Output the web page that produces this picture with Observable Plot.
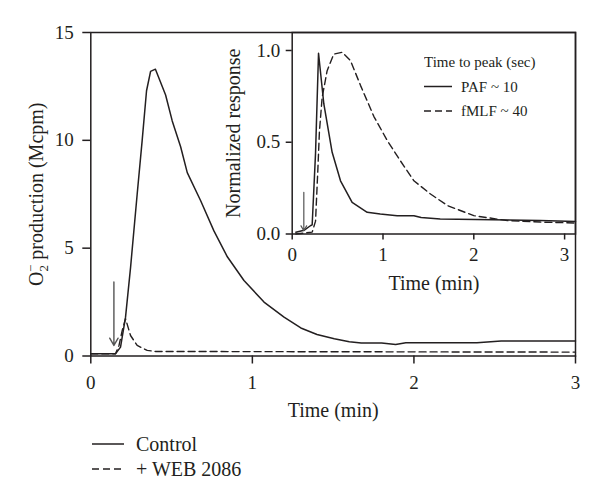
<!DOCTYPE html>
<html>
<head>
<meta charset="utf-8">
<script src="https://cdn.jsdelivr.net/npm/d3@7"></script>
<script src="https://cdn.jsdelivr.net/npm/@observablehq/plot@0.6"></script>
<style>
  html, body { margin: 0; padding: 0; background: white; }
  #wrap { position: relative; width: 600px; height: 503px; color: #231f20; }
  #inset { position: absolute; left: 200px; top: 0px; }
  #insetLegend { position: absolute; left: 424px; top: 50px; }
  #legend { display: block; }
  svg text { font-family: "Liberation Serif", serif; }
</style>
</head>
<body>
<div id="wrap">
  <div id="main"></div>
  <div id="inset"></div>
  <div id="insetLegend"></div>
  <div id="legend"></div>
</div>
<script>
// ---------- Main chart data ----------
const mainXTicks = [0, 1, 2, 3];
const mainYTicks = [0, 5, 10, 15];
const mainXLabel = "Time (min)";
const mainYLabel = "O₂⁻ production (Mcpm)";

const controlTime  = [0, 0.153, 0.184, 0.215, 0.246, 0.287, 0.318, 0.345, 0.37, 0.40, 0.463, 0.504, 0.556, 0.597, 0.68, 0.762, 0.845, 0.948, 1.072, 1.196, 1.30, 1.40, 1.507, 1.60, 1.674, 1.80, 1.887, 1.95, 2.39, 2.54, 3.0];
const controlValue = [0.1, 0.1, 0.41, 1.8, 4.1, 7.5, 10.0, 12.3, 13.2, 13.3, 12.1, 10.9, 9.7, 8.5, 7.2, 5.8, 4.6, 3.5, 2.5, 1.8, 1.3, 1.0, 0.8, 0.66, 0.6, 0.6, 0.53, 0.61, 0.61, 0.69, 0.69];

const webTime  = [0, 0.153, 0.175, 0.195, 0.215, 0.246, 0.287, 0.349, 0.40, 3.0];
const webValue = [0.1, 0.1, 0.5, 1.2, 1.73, 0.95, 0.49, 0.26, 0.21, 0.18];

const mainArrow = {x: 0.143, from: 3.43, to: 0.49};

const seriesNames = ["Control", "+ WEB 2086"];

// ---------- Inset data ----------
const insetXTicks = [0, 1, 2, 3];
const insetYTicks = [0, 0.5, 1.0];
const insetXLabel = "Time (min)";
const insetYLabel = "Normalized response";
const insetLegendTitle = "Time to peak (sec)";
const insetNames = ["PAF ~ 10", "fMLF ~ 40"];

const pafTime  = [0.04, 0.13, 0.20, 0.22, 0.257, 0.29, 0.348, 0.44, 0.532, 0.66, 0.826, 0.97, 1.156, 1.34, 1.42, 1.63, 2.73, 3.12];
const pafValue = [0.01, 0.02, 0.045, 0.05, 0.44, 0.985, 0.71, 0.445, 0.29, 0.172, 0.118, 0.109, 0.10, 0.10, 0.09, 0.082, 0.073, 0.068];

const fmlfTime  = [0.04, 0.22, 0.257, 0.282, 0.30, 0.33, 0.385, 0.458, 0.55, 0.642, 0.752, 0.9, 1.046, 1.19, 1.34, 1.523, 1.71, 2.0, 2.37, 2.73, 3.12];
const fmlfValue = [0.0, 0.01, 0.07, 0.345, 0.56, 0.745, 0.89, 0.98, 0.99, 0.945, 0.81, 0.64, 0.51, 0.40, 0.29, 0.218, 0.155, 0.10, 0.073, 0.065, 0.06];

const insetArrow = {x: 0.128, from: 0.227, to: 0.018};

// ---------- helpers ----------
const toRows = (t, v) => t.map((d, i) => ({t: d, v: v[i]}));
const INK = "#231f20";
const DASH = "7,4";
const FONT = "Liberation Serif";

// ---------- Main plot ----------
const main = Plot.plot({
  width: 600, height: 432,
  marginLeft: 90.3, marginRight: 25, marginTop: 32, marginBottom: 76.5,
  style: {fontFamily: FONT, fontSize: "19px", color: INK, background: "transparent", overflow: "visible"},
  x: {domain: [0, 3]},
  y: {domain: [0, 15]},
  marks: [
    Plot.line(toRows(webTime, webValue), {x: "t", y: "v", stroke: INK, strokeWidth: 1.4, strokeDasharray: DASH}),
    Plot.line(toRows(controlTime, controlValue), {x: "t", y: "v", stroke: INK, strokeWidth: 1.5}),
    Plot.arrow([mainArrow], {x: "x", y1: "from", y2: "to", stroke: "#555", strokeWidth: 1.4, headLength: 9}),
    Plot.frame({stroke: INK, strokeWidth: 1.5}),
    Plot.axisX({ticks: mainXTicks, tickSize: 8, tickPadding: 11, tickFormat: d => String(d), label: null, strokeWidth: 1.5, fontSize: 19}),
    Plot.axisY({ticks: mainYTicks, tickSize: 8, tickPadding: 9, tickFormat: d => String(d), label: null, strokeWidth: 1.5, fontSize: 19}),
    Plot.text([mainXLabel], {frameAnchor: "bottom", lineAnchor: "middle", textAnchor: "middle", dy: 55, fontSize: 20, fill: INK}),
    Plot.text([mainYLabel], {frameAnchor: "left", lineAnchor: "middle", textAnchor: "middle", rotate: -90, dx: -54, fontSize: 20, fill: INK})
  ]
});
document.getElementById("main").appendChild(main);

// stacked sub/superscript for the O2- label
for (const n of main.querySelectorAll("text")) {
  if (n.textContent === mainYLabel) {
    const ns = "http://www.w3.org/2000/svg";
    n.textContent = "";
    const parts = [
      {s: "O"},
      {s: "2", fs: 13, dy: 5},
      {s: "−", fs: 13, dx: -7, dy: -13},
      {s: " production (Mcpm)", dy: 8}
    ];
    for (const p of parts) {
      const ts = document.createElementNS(ns, "tspan");
      ts.textContent = p.s;
      if (p.fs) ts.setAttribute("font-size", p.fs);
      if (p.dx) ts.setAttribute("dx", p.dx);
      if (p.dy) ts.setAttribute("dy", p.dy);
      n.appendChild(ts);
    }
  }
}

// ---------- Inset plot ----------
const inset = Plot.plot({
  width: 400, height: 300,
  marginLeft: 91.7, marginRight: 25, marginTop: 32, marginBottom: 66.5,
  style: {fontFamily: FONT, fontSize: "19px", color: INK, background: "transparent", overflow: "visible"},
  x: {domain: [0, 3.12]},
  y: {domain: [0, 1.098]},
  marks: [
    Plot.line(toRows(fmlfTime, fmlfValue), {x: "t", y: "v", stroke: INK, strokeWidth: 1.4, strokeDasharray: DASH}),
    Plot.line(toRows(pafTime, pafValue), {x: "t", y: "v", stroke: INK, strokeWidth: 1.5}),
    Plot.arrow([insetArrow], {x: "x", y1: "from", y2: "to", stroke: "#555", strokeWidth: 1.2, headLength: 7}),
    Plot.frame({stroke: INK, strokeWidth: 1.5}),
    Plot.axisX({ticks: insetXTicks, tickSize: 6, tickPadding: 7, tickFormat: d => String(d), label: null, strokeWidth: 1.5, fontSize: 19}),
    Plot.axisY({ticks: insetYTicks, tickSize: 6, tickPadding: 6, tickFormat: d3.format(".1f"), label: null, strokeWidth: 1.5, fontSize: 19}),
    Plot.text([insetXLabel], {frameAnchor: "bottom", lineAnchor: "middle", textAnchor: "middle", dy: 50, fontSize: 20, fill: INK}),
    Plot.text([insetYLabel], {frameAnchor: "left", lineAnchor: "middle", textAnchor: "middle", rotate: -90, dx: -59, fontSize: 20, fill: INK})
  ]
});
document.getElementById("inset").appendChild(inset);

// ---------- legends (SVG text, serif) ----------
function legendSvg(title, names, opts) {
  const {w, h, rowH, top, sw, gap, fs} = opts;
  const svg = d3.create("svg").attr("width", w).attr("height", h).style("display", "block");
  let y = top;
  if (title) {
    svg.append("text").attr("x", 0).attr("y", y).attr("dy", "0.35em")
      .attr("font-size", fs).attr("fill", INK).text(title);
    y += rowH;
  }
  names.forEach((n, i) => {
    svg.append("line").attr("x1", 0).attr("x2", sw).attr("y1", y).attr("y2", y)
      .attr("stroke", INK).attr("stroke-width", 1.5)
      .attr("stroke-dasharray", i === 1 ? DASH : null);
    svg.append("text").attr("x", sw + gap).attr("y", y).attr("dy", "0.35em")
      .attr("font-size", fs).attr("fill", INK).text(n);
    y += rowH;
  });
  return svg.node();
}
document.getElementById("insetLegend").appendChild(
  legendSvg(insetLegendTitle, insetNames, {w: 140, h: 72, rowH: 24.5, top: 12, sw: 28, gap: 9, fs: 15}));

const lg = document.getElementById("legend");
const lgSvg = legendSvg(null, seriesNames, {w: 600, h: 71, rowH: 25, top: 12, sw: 32, gap: 12, fs: 20});
lgSvg.querySelectorAll("line, text").forEach(el => el.setAttribute("transform", "translate(92,0)"));
lg.appendChild(lgSvg);
</script>
</body>
</html>
